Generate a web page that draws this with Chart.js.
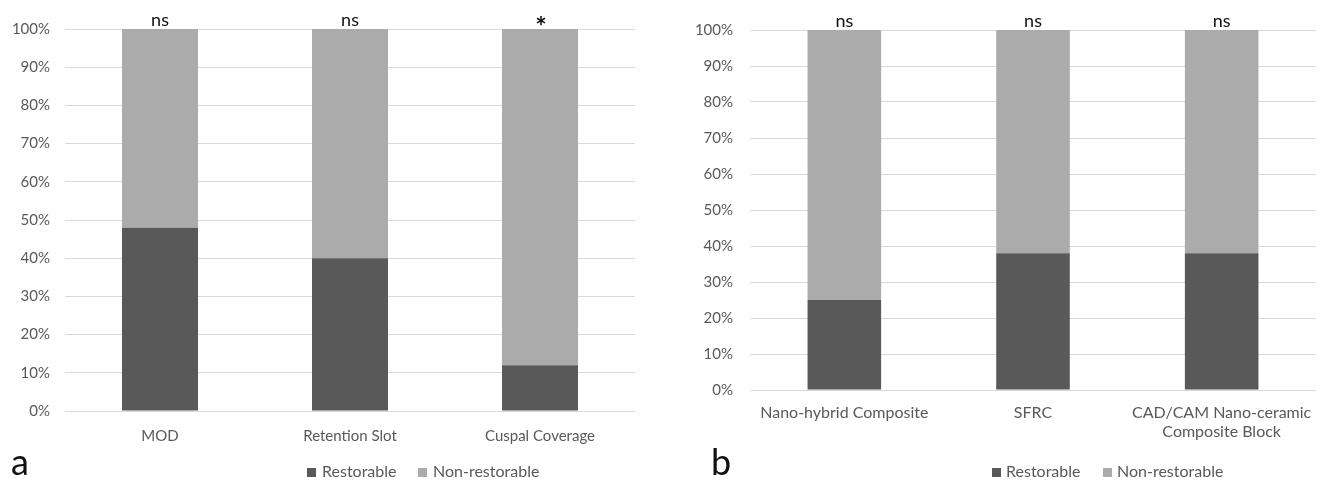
<!DOCTYPE html>
<html>
<head>
<meta charset="utf-8">
<script src="https://cdn.jsdelivr.net/npm/chart.js@4"></script>
<style>
  body { margin: 0; background: #fff; width: 1328px; height: 481px; overflow: hidden; position: relative; font-family: Lato, "Open Sans", sans-serif; }
  .panel { position: absolute; top: 0; height: 481px; }
  .letter { position: absolute; top: 443px; font-size: 36px; line-height: 36px; color: #111; }
  .lg-text { position: absolute; top: 462px; font-size: 16px; line-height: 17px; color: #595959; white-space: nowrap; }
  .lg-box { position: absolute; top: 468px; width: 9px; height: 9px; }
</style>
</head>
<body>
<div class="panel" style="left:0;width:655px"><canvas id="chartA"></canvas></div>
<div class="panel" style="left:660px;width:668px"><canvas id="chartB"></canvas></div>

<div class="letter" style="left:11px">a</div>
<div class="letter" style="left:711px">b</div>

<div class="lg-box" style="left:307px;background:#595959"></div>
<div class="lg-text" style="left:322px">Restorable</div>
<div class="lg-box" style="left:418px;background:#ababab"></div>
<div class="lg-text" style="left:433px">Non-restorable</div>

<div class="lg-box" style="left:992px;background:#595959"></div>
<div class="lg-text" style="left:1006px">Restorable</div>
<div class="lg-box" style="left:1103px;background:#ababab"></div>
<div class="lg-text" style="left:1117px">Non-restorable</div>

<script>
// panel a
const catsA = ['MOD', 'Retention Slot', 'Cuspal Coverage'];
const restorableA = [48, 40, 12];
const nonRestorableA = [52, 60, 88];
const sigA = ['ns', 'ns', '*'];

// panel b
const catsB = ['Nano-hybrid Composite', 'SFRC', ['CAD/CAM Nano-ceramic', 'Composite Block']];
const restorableB = [25, 38, 38];
const nonRestorableB = [75, 62, 62];
const sigB = ['ns', 'ns', 'ns'];

const DARK = '#595959';
const LIGHT = '#ababab';

const sigPlugin = {
  id: 'sigLabels',
  afterDatasetsDraw(chart, args, opts) {
    const ctx = chart.ctx;
    const meta = chart.getDatasetMeta(chart.data.datasets.length - 1);
    const yTop = chart.scales.y.getPixelForValue(100);
    ctx.save();
    ctx.fillStyle = '#111';
    ctx.textAlign = 'center';
    ctx.textBaseline = 'alphabetic';
    opts.labels.forEach((txt, i) => {
      const x = meta.data[i].x;
      if (txt === '*') {
        ctx.font = 'bold 27px Lato';
        ctx.fillText(txt, x + 1, yTop + 7);
      } else {
        ctx.font = '18px Lato';
        ctx.fillText(txt, x, yTop - 3);
      }
    });
    ctx.restore();
  }
};

function makeChart(id, cats, rest, nonRest, sig, o) {
  return new Chart(document.getElementById(id), {
    type: 'bar',
    data: {
      labels: cats,
      datasets: [
        { label: 'Restorable', data: rest, backgroundColor: DARK },
        { label: 'Non-restorable', data: nonRest, backgroundColor: LIGHT }
      ]
    },
    options: {
      responsive: true,
      maintainAspectRatio: false,
      animation: false,
      layout: { padding: { top: o.top, right: o.right, left: 0, bottom: 0 } },
      plugins: {
        legend: { display: false },
        tooltip: { enabled: false },
        sigLabels: { labels: sig }
      },
      datasets: { bar: { categoryPercentage: 1, barPercentage: o.barPct } },
      scales: {
        x: {
          stacked: true,
          grid: { display: false, drawTicks: false },
          border: { display: false },
          ticks: { color: '#595959', font: { family: 'Lato', size: o.xFont }, padding: o.xPad, maxRotation: 0, autoSkip: false },
          afterFit(s) { s.height = o.xHeight; }
        },
        y: {
          stacked: true,
          min: 0,
          max: 100,
          grid: { color: '#d9d9d9', lineWidth: 1, drawTicks: false },
          border: { display: false },
          ticks: { stepSize: 10, color: '#595959', font: { family: 'Lato', size: 15 }, padding: o.yPad, callback: v => v + '%' },
          afterFit(s) { s.width = o.yWidth; }
        }
      }
    },
    plugins: [sigPlugin]
  });
}

makeChart('chartA', catsA, restorableA, nonRestorableA, sigA,
  { top: 29, right: 20, barPct: 0.4, xFont: 15, xPad: 16, xHeight: 70, yWidth: 65, yPad: 15 });
makeChart('chartB', catsB, restorableB, nonRestorableB, sigB,
  { top: 30, right: 12, barPct: 0.39, xFont: 16, xPad: 13, xHeight: 91, yWidth: 90, yPad: 17 });
</script>
</body>
</html>
